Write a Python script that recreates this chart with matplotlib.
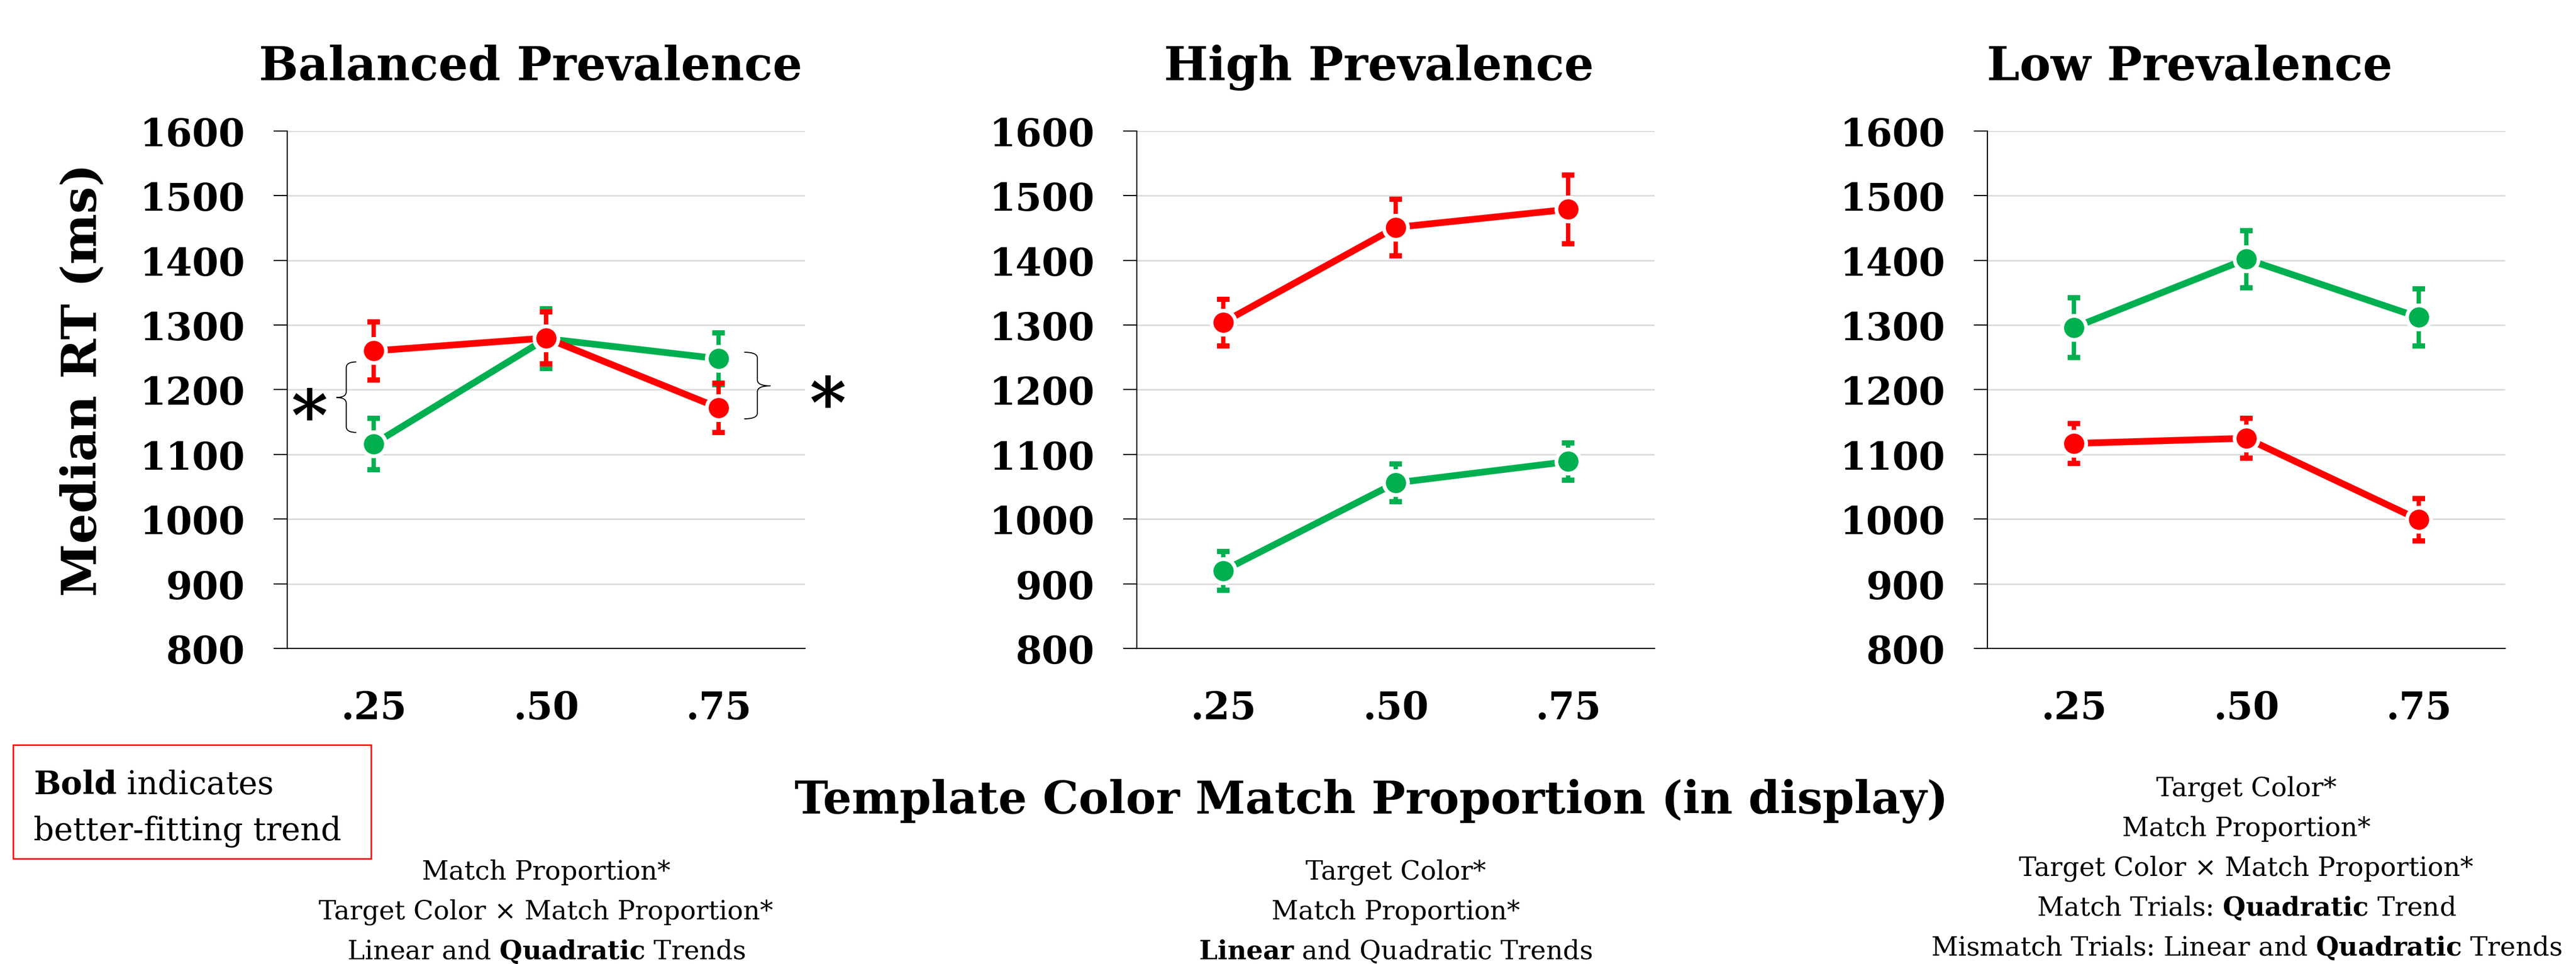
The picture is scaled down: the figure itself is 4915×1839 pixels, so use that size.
"""
Median RT por proporção de correspondência de cor - três condições de prevalência.
"""
import matplotlib
matplotlib.use("Agg")
import matplotlib.pyplot as plt
import matplotlib.transforms as mtransforms
from matplotlib.path import Path
from matplotlib.patches import PathPatch, Rectangle

# ── Dados ──────────────────────────────────────────────────────
PROPORTIONS = [".25", ".50", ".75"]
PANEL_TITLES = ["Balanced Prevalence", "High Prevalence", "Low Prevalence"]
Y_TICKS = [800, 900, 1000, 1100, 1200, 1300, 1400, 1500, 1600]

# match trials (verde) e mismatch trials (vermelho), um item por painel
MATCH_RT = [[1116, 1279, 1248], [920, 1056, 1089], [1296, 1402, 1312]]
MATCH_ERR = [[40, 46, 40], [30, 29, 29], [46, 44, 44]]
MISMATCH_RT = [[1260, 1280, 1172], [1304, 1451, 1479], [1117, 1125, 999]]
MISMATCH_ERR = [[45, 40, 38], [36, 44, 53], [31, 31, 33]]

NOTES = [
    ["Match Proportion*",
     "Target Color × Match Proportion*",
     r"Linear and $\mathbf{Quadratic}$ Trends"],
    ["Target Color*",
     "Match Proportion*",
     r"$\mathbf{Linear}$ and Quadratic Trends"],
    ["Target Color*",
     "Match Proportion*",
     "Target Color × Match Proportion*",
     r"Match Trials: $\mathbf{Quadratic}$ Trend",
     r"Mismatch Trials: Linear and $\mathbf{Quadratic}$ Trends"],
]

# chaves de significância no painel balanceado: (x_linha, x_ponta_fim, x_bico, y_topo, y_base, y_bico)
BRACES = [(-0.158, -0.10, -0.215, 1243, 1134, 1188),
          (2.224, 2.148, 2.300, 1258, 1155, 1206)]
STARS = [(-0.373, 1183), (2.63, 1203)]

# ── Estilo ─────────────────────────────────────────────────────
GREEN = "#00B050"
RED = "#FF0000"
GRID = "#D9D9D9"
W, H, DPI = 4915, 1840, 200

plt.rcParams["font.family"] = ["DejaVu Serif"]
plt.rcParams["mathtext.fontset"] = "custom"
plt.rcParams["mathtext.rm"] = "DejaVu Serif"
plt.rcParams["mathtext.bf"] = "DejaVu Serif:bold"

AX_LEFT = [548, 2169, 3792]   # px
AX_W = 988
AX_TOP, AX_BOT = 251, 1238
TITLE_X = [1012, 2631, 4178]
NOTE_FIRST_BASE = [1678, 1678, 1519]
NOTE_STEP = 76


def fx(px):
    return px / W


def fy(px):
    return 1 - px / H


def draw_series(ax, y, err, color, z):
    x = range(len(PROPORTIONS))
    ax.errorbar(x, y, yerr=err, fmt="none", ecolor=color, elinewidth=3.0,
                capsize=4.4, capthick=3.6, zorder=z)
    ax.plot(x, y, color=color, lw=4.6, zorder=z + 1, solid_capstyle="butt")
    ax.plot(x, y, ls="none", marker="o", ms=16.5, mfc=color, mec="white",
            mew=2.6, zorder=z + 2)


def draw_brace(ax, x_line, x_end, x_tip, y_top, y_bot, y_tip):
    r = 9
    verts = [(x_end, y_top), (x_line, y_top), (x_line, y_top - r),
             (x_line, y_tip + r), (x_line, y_tip), (x_tip, y_tip),
             (x_line, y_tip), (x_line, y_tip - r),
             (x_line, y_bot + r), (x_line, y_bot), (x_end, y_bot)]
    codes = [Path.MOVETO, Path.CURVE3, Path.CURVE3,
             Path.LINETO, Path.CURVE3, Path.CURVE3,
             Path.CURVE3, Path.CURVE3,
             Path.LINETO, Path.CURVE3, Path.CURVE3]
    ax.add_patch(PathPatch(Path(verts, codes), fill=False, ec="black",
                           lw=0.7, clip_on=False, zorder=10))


fig = plt.figure(figsize=(W / DPI, H / DPI), dpi=DPI)

for i in range(3):
    ax = fig.add_axes([fx(AX_LEFT[i]), fy(AX_BOT), fx(AX_W), (AX_BOT - AX_TOP) / H])
    ax.set_xlim(-0.5, 2.5)
    ax.set_ylim(800, 1600)
    ax.set_yticks(Y_TICKS)
    ax.set_xticks(range(3), PROPORTIONS)
    ax.grid(axis="y", color=GRID, lw=1.0)
    ax.set_axisbelow(True)
    for s in ("top", "right"):
        ax.spines[s].set_visible(False)
    for s in ("left", "bottom"):
        ax.spines[s].set_linewidth(0.8)
    ax.tick_params(axis="y", length=9.4, width=0.8, pad=19.8, labelsize=26)
    ax.tick_params(axis="x", length=0, pad=28, labelsize=26)
    for lbl in ax.get_xticklabels() + ax.get_yticklabels():
        lbl.set_fontweight("bold")

    draw_series(ax, MATCH_RT[i], MATCH_ERR[i], GREEN, 3)
    draw_series(ax, MISMATCH_RT[i], MISMATCH_ERR[i], RED, 6)

    fig.text(fx(TITLE_X[i]), fy(153), PANEL_TITLES[i], ha="center",
             va="baseline", fontsize=32, fontweight="bold")

    cx = fx(AX_LEFT[i] + AX_W / 2)
    for k, line in enumerate(NOTES[i]):
        fig.text(cx, fy(NOTE_FIRST_BASE[i] + k * NOTE_STEP), line,
                 ha="center", va="baseline", fontsize=18)

    if i == 0:
        for b in BRACES:
            draw_brace(ax, *b)
        star_tr = mtransforms.offset_copy(ax.transData, fig=fig, y=-26.6, units="points")
        for sx, sy in STARS:
            ax.text(sx, sy, "*", transform=star_tr, ha="center", va="baseline",
                    fontsize=48, fontweight="bold", clip_on=False)

fig.text(fx(158), fy(725), "Median RT (ms)", rotation=90, ha="center",
         va="center", fontsize=33, fontweight="bold")
fig.text(fx(2617), fy(1552), "Template Color Match Proportion (in display)",
         ha="center", va="baseline", fontsize=31, fontweight="bold")

# caixa da legenda
fig.add_artist(Rectangle((fx(25), fy(1639)), fx(683), (1639 - 1422) / H,
                         transform=fig.transFigure, fill=False, ec=RED, lw=1.0))
fig.text(fx(64), fy(1515), r"$\mathbf{Bold}$ indicates", va="baseline", fontsize=22)
fig.text(fx(64), fy(1603), "better-fitting trend", va="baseline", fontsize=22)

fig.savefig("out.png", dpi=DPI, facecolor="white")
